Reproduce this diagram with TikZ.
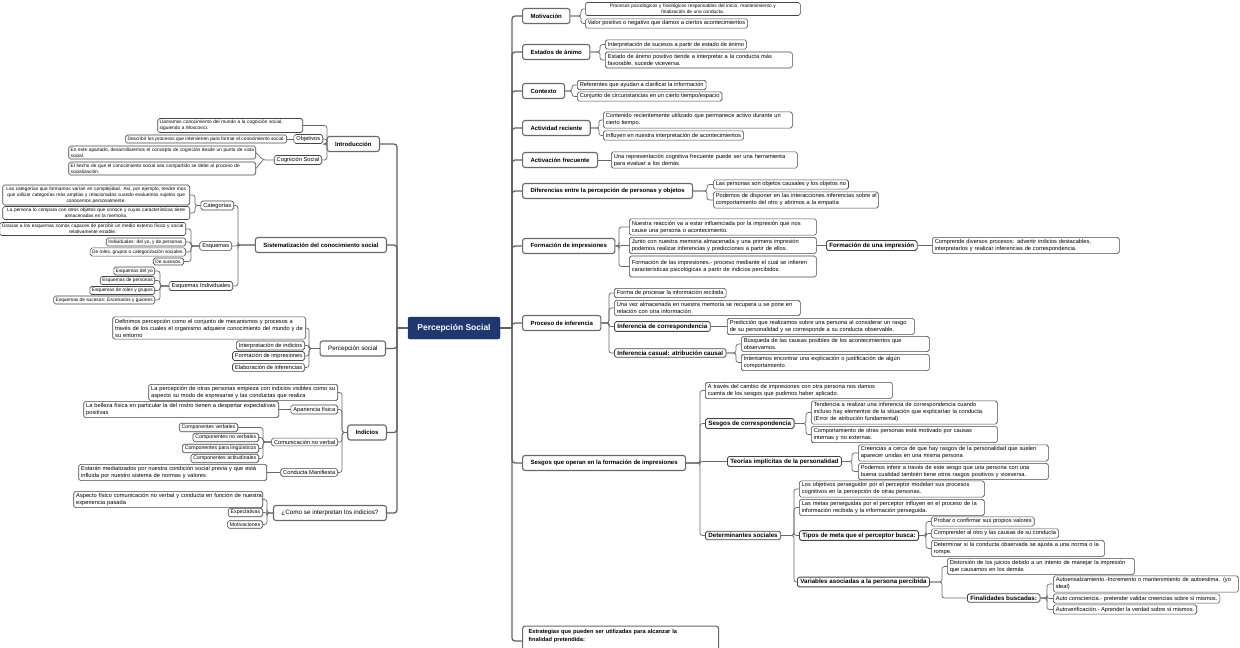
\documentclass[tikz,border=0pt]{standalone}
\usepackage{fontspec}
\setmainfont{Liberation Sans}
\newcommand{\fsz}[2]{\fontsize{#1}{#2}\selectfont}
\definecolor{bordc}{RGB}{70,70,70}
\definecolor{mainc}{RGB}{105,105,105}
\definecolor{connc}{RGB}{105,105,105}
\definecolor{rootc}{RGB}{31,56,112}
\newcommand{\conR}[3]{\foreach \nd in {#3}{\draw[conn] (#1.east) -- (#1.east -| #2) |- (\nd.west);}}
\newcommand{\conL}[3]{\foreach \nd in {#3}{\draw[conn] (#1.west) -- (#1.west -| #2) |- (\nd.east);}}
\newcommand{\lin}[1]{\mbox{#1}}
\tikzset{
 bx/.style={draw=bordc, line width=0.6pt, rounded corners=1.8pt, fill=white, inner xsep=2.5pt, inner ysep=2pt, font=\fsz{5.7}{7}, align=left},
 bxc/.style={bx, align=center},
 sbx/.style={bx, font=\fsz{4.8}{5.9}, inner xsep=2pt, inner ysep=1.8pt},
 sbxc/.style={sbx, align=center},
 lab/.style={bx, inner ysep=1.8pt},
 slab/.style={lab, font=\fsz{5.2}{6.4}},
 bsub/.style={bx, font=\bfseries\fsz{6.2}{7}, inner xsep=3pt, inner ysep=2pt, line width=0.8pt},
 mnode/.style={draw=mainc, line width=1.1pt, rounded corners=2.5pt, fill=white, font=\bfseries\fsz{6}{7}, inner xsep=8pt, minimum height=15pt},
 rootn/.style={fill=rootc, draw=rootc!70!black, rounded corners=2pt, text=white, font=\bfseries\fsz{8.5}{10}, minimum width=92pt, minimum height=22pt},
 conn/.style={draw=connc, line width=0.7pt, rounded corners=2.5pt},
 trunk/.style={draw=bordc!85, line width=1.3pt, rounded corners=3pt},
}
\begin{document}
\begin{tikzpicture}[x=1pt,y=-1pt]
\useasboundingbox (0,0) rectangle (1240,648);
\fill[white] (0,0) rectangle (1240,648);

\node[rootn] (root) at (454,328) {Percepción Social};

% ---------- right side ----------
\begin{scope}[every node/.append style={anchor=west}]
\node[mnode] (M1) at (522,16) {Motivación};
\node[mnode] (M2) at (522,52) {Estados de ánimo};
\node[mnode] (M3) at (522,91) {Contexto};
\node[mnode] (M4) at (522,128) {Actividad reciente};
\node[mnode] (M5) at (522,160) {Activación frecuente};
\node[mnode] (M6) at (522,191) {Diferencias entre la percepción de personas y objetos};
\node[mnode] (M7) at (522,246) {Formación de impresiones};
\node[mnode] (M8) at (522,323) {Proceso de inferencia};
\node[mnode] (M9) at (522,463) {Sesgos que operan en la formación de impresiones};
\node[mnode, align=left, font=\bfseries\fsz{5.7}{8.5}, inner xsep=6pt, inner ysep=3pt, text width=184pt] (M10) at (522,641) {\lin{Estrategias que pueden ser utilizadas para alcanzar la}\\\lin{finalidad pretendida:}\\ \strut};

\node[sbxc, text width=211pt] (c1a) at (585,9) {\lin{Procesos psicológicos y fisiológicos responsables del inicio, mantenimiento y}\\\lin{finalización de una conducta.}};
\node[bx] (c1b) at (585,23.5) {Valor positivo o negativo que damos a ciertos acontecimientos};
\node[bx] (c2a) at (605,44.5) {Interpretación de sucesos a partir de estado de ánimo};
\node[bx, text width=182pt] (c2b) at (605,60) {\lin{Estado de ánimo positivo tiende a interpretar a la conducta más}\\\lin{favorable, sucede viceversa.}};
\node[bx] (c3a) at (577,85) {Referentes que ayudan a clarificar la información};
\node[bx] (c3b) at (577,96.5) {Conjunto de circunstancias en un cierto tiempo/espacio};
\node[bx, text width=184pt] (c4a) at (603,120) {\lin{Contenido recientemente utilizado que permanece activo durante un}\\\lin{cierto tiempo.}};
\node[bx] (c4b) at (603,135.5) {Influyen en nuestra interpretación de acontecimientos};
\node[bx, text width=181pt] (c5a) at (611,160) {\lin{Una representación cognitiva frecuente puede ser una herramienta}\\\lin{para evaluar a los demás}};
\node[bx] (c6a) at (713,184.5) {Las personas son objetos causales y los objetos no};
\node[bx, text width=160pt] (c6b) at (713,200) {\lin{Podemos de disponer en las interacciones inferencias sobre el}\\\lin{comportamiento del otro y abrimos a la empatía}};

\node[bx, text width=182pt] (c7a) at (629,227) {\lin{Nuestra reacción va a estar influenciada por la impresión que nos}\\\lin{cause una persona o acontecimiento.}};
\node[bx, text width=182pt] (c7b) at (629,245.5) {\lin{Junto con nuestra memoria almacenada y una primera impresión}\\\lin{podemos realizar inferencias y predicciones a partir de ellos.}};
\node[bx, text width=182pt, minimum height=21pt] (c7c) at (629,266.5) {\lin{Formación de las impresiones.- proceso mediante el cual se infieren}\\\lin{características psicológicas a partir de indicios percibidos.}};
\node[bsub] (c7d) at (826,245.5) {Formación de una impresión};
\node[bx, text width=182pt] (c7e) at (932,245.5) {\lin{Comprende diversos procesos: advertir indicios destacables,}\\\lin{interpretarlos y realizar inferencias de correspondencia.}};

\node[bx] (c8a) at (614,293) {Forma de procesar la información recibida};
\node[bx, text width=181pt] (c8b) at (614,308) {\lin{Una vez almacenada en nuestra memoria se recupera u se pone en}\\\lin{relación con otra información}};
\node[bsub] (c8c) at (614,326.5) {Inferencia de correspondencia};
\node[bx, text width=182pt] (c8d) at (727,326.5) {\lin{Predicción que realizamos sobre una persona al considerar un rasgo}\\\lin{de su personalidad y se corresponde a su conducta observable.}};
\node[bsub] (c8e) at (614,353) {Inferencia casual: atribución causal};
\node[bx, text width=183pt] (c8f) at (741,344) {\lin{Búsqueda de las causas posibles de los acontecimientos que}\\\lin{observamos.}};
\node[bx, text width=183pt] (c8g) at (741,362.5) {\lin{Intentamos encontrar una explicación o justificación de algún}\\\lin{comportamiento.}};

\node[bx, text width=182pt] (c9a) at (705,390.5) {\lin{A través del cambio de impresiones con otra persona nos damos}\\\lin{cuenta de los sesgos que pudimos haber aplicado.}};
\node[bsub] (c9b) at (705,423.5) {Sesgos de correspondencia};
\node[bx, text width=181pt] (c9c) at (811,412.5) {\lin{Tendencia a realizar una inferencia de correspondencia cuando}\\\lin{incluso hay elementos de la situación que explicarían la conducta.}\\\lin{(Error de atribución fundamental)}};
\node[bx, text width=181pt] (c9d) at (811,434.5) {\lin{Comportamiento de otras personas está motivado por causas}\\\lin{internas y no externas.}};
\node[bsub] (c9e) at (727,461.5) {Teorías implícitas de la personalidad};
\node[bx, text width=185pt] (c9f) at (858,453) {\lin{Creencias a cerca de que hay rasgos de la personalidad que suelen}\\\lin{aparecer unidas en una misma persona}};
\node[bx, text width=185pt] (c9g) at (858,471.5) {\lin{Podemos inferir a través de este sesgo que una persona con una}\\\lin{buena cualidad también tiene otros rasgos positivos y viceversa.}};
\node[bsub] (c9h) at (705,535.5) {Determinantes sociales};
\node[bx, text width=180pt] (c9i) at (799,489) {\lin{Los objetivos perseguidor por el perceptor modelan sus procesos}\\\lin{cognitivos en la percepción de otras personas.}};
\node[bx, text width=180pt] (c9j) at (799,507.5) {\lin{Las metas perseguidas por el perceptor influyen en el proceso de la}\\\lin{información recibida y la información perseguida.}};
\node[bsub] (c9k) at (799,535.5) {Tipos de meta que el perceptor busca:};
\node[bx] (c9l) at (931,521.5) {Probar o confirmar sus propios valores};
\node[bx] (c9m) at (931,533.5) {Comprender al otro y las causas de su conducta};
\node[bx, text width=168pt] (c9n) at (931,548.5) {\lin{Determinar si la conducta observada se ajusta a una norma o la}\\\lin{rompe.}};
\node[bsub] (c9o) at (797,582) {Variables asociadas a la persona percibida};
\node[bx, text width=182pt] (c9p) at (947,566.5) {\lin{Distorsión de los juicios debido a un intento de manejar la impresión}\\\lin{que causamos en los demás}};
\node[bsub] (c9q) at (967,598) {Finalidades buscadas:};
\node[bx, text width=180pt] (c9r) at (1053,584) {\lin{Autoensalzamiento.-Incremento o mantenimiento de autoestima. (yo}\\\lin{ideal)}};
\node[bx] (c9s) at (1053,598.5) {Auto consciencia.- pretender validar creencias sobre sí mismos.};
\node[bx] (c9t) at (1053,609.5) {Autoverificación.- Aprender la verdad sobre sí mismos.};
\end{scope}

% ---------- left side ----------
\begin{scope}[every node/.append style={anchor=east}]
\node[mnode] (L1) at (380,144) {Introducción};
\node[mnode] (L2) at (387,245) {Sistematización del conocimiento social};
\node[mnode, font=\fsz{6.3}{7}] (L3) at (386,348.5) {Percepción social};
\node[mnode] (L4) at (387,432.5) {Indicios};
\node[mnode, font=\fsz{6.3}{7}] (L5) at (387,513) {¿Como se interpretan los indicios?};

\node[sbx, text width=141pt] (n1a) at (303,125.5) {\lin{Llamamos conocimiento del mundo a la cognición social,}\\\lin{siguiendo a Moscovici.}};
\node[lab] (n1b) at (323,139) {Objetivos};
\node[sbx] (n1b1) at (287,139) {Describir los procesos que intervienen para formar el conocimiento social.};
\node[lab] (n1c) at (322,160) {Cognición Social};
\node[sbx, text width=183pt] (n1c1) at (256,152.5) {\lin{En este apartado, desarrollaremos el concepto de cognición desde un punto de vista}\\\lin{social.}};
\node[sbx, text width=183pt] (n1c2) at (256,168.5) {\lin{El hecho de que el conocimiento social sea compartido se debe al proceso de}\\\lin{socialización.}};

\node[lab] (n2a) at (234,205.5) {Categorías};
\node[sbxc, text width=183pt] (cat1) at (190,195) {\lin{Las categorías que formamos varían en complejidad. Así, por ejemplo, tendre mos}\\\lin{que utilizar categorías más amplias y relacionadas cuando evaluemos sujetos que}\\\lin{conocemos personalmente.}};
\node[sbxc, text width=183pt] (cat2) at (190,213) {\lin{La persona lo compara con otros objetos que conoce y cuyas características tiene}\\\lin{almacenadas en la memoria.}};
\node[lab] (n2b) at (232,246) {Esquemas};
\node[sbxc, text width=182pt] (e1) at (186,229) {\lin{Gracias a los esquemas somos capaces de percibir un medio externo físico y social}\\\lin{relativamente estable.}};
\node[sbx] (e2) at (186,242) {Individuales: del yo, y de personas.};
\node[sbx] (e3) at (186,252) {De roles, grupos o categorización sociales.};
\node[sbx] (e4) at (184,261.5) {De sucesos.};
\node[lab] (n2c) at (233,286) {Esquemas Individuales};
\node[sbx] (ei1) at (155,271) {Esquemas del yo};
\node[sbx] (ei2) at (155,280.5) {Esquemas de personas};
\node[sbx] (ei3) at (155,290.5) {Esquemas de roles y grupos};
\node[sbx] (ei4) at (155,300) {Esquemas de sucesos: Escenarios y guiones};

\node[bx, text width=188pt] (p1) at (306,328) {\lin{Definimos percepción como el conjunto de mecanismos y procesos a}\\\lin{través de los cuales el organismo adquiere conocimiento del mundo y de}\\\lin{su entorno}};
\node[lab] (p2) at (305,345.5) {Interpretación de indicios};
\node[lab] (p3) at (305,356) {Formación de impresiones};
\node[lab] (p4) at (305,367.5) {Elaboración de inferencias};

\node[bx, text width=184pt] (i1) at (338,392.5) {\lin{La percepción de otras personas empieza con indicios visibles como su}\\\lin{aspecto su modo de expresarse y las conductas que realiza}};
\node[lab] (i2) at (338,409.5) {Apariencia física};
\node[bx, text width=190pt] (i2a) at (279,409.5) {\lin{La belleza física en particular la del rostro tienen a despertar expectativas}\\\lin{positivas}};
\node[lab] (i3) at (338,442) {Comunicación no verbal};
\node[slab] (i3a) at (238,427.5) {Componentes verbales};
\node[slab] (i3b) at (259,437.5) {Componentes no verbales};
\node[slab] (i3c) at (259,448.5) {Componentes para lingüísticos};
\node[slab] (i3d) at (259,458.5) {Componentes actitudinales};
\node[lab] (i4) at (338,472.5) {Conducta Manifiesta};
\node[bx, text width=183pt] (i4a) at (267,472.5) {\lin{Estarán mediatizados por nuestra condición social previa y que está}\\\lin{influida por nuestro sistema de normas y valores}};

\node[bx, text width=184pt] (w1) at (263,499.5) {\lin{Aspecto físico comunicación no verbal y conducta en función de nuestra}\\\lin{experiencia pasada}};
\node[slab] (w2) at (263,512.5) {Expectativas};
\node[slab] (w3) at (263,524.5) {Motivaciones};
\end{scope}

% ---------- bracket coordinates ----------
\coordinate (TR) at (512,0);
\coordinate (TL) at (397,0);
\coordinate (bR1) at (581,0);
\coordinate (bR2) at (600,0);
\coordinate (bR3) at (572,0);
\coordinate (bR4) at (599,0);
\coordinate (bR6) at (707,0);
\coordinate (bR7) at (619,0);
\coordinate (bR8) at (609,0);
\coordinate (bR8b) at (736,0);
\coordinate (bR9) at (700,0);
\coordinate (bR9b) at (806,0);
\coordinate (bR9e) at (852,0);
\coordinate (bR9h) at (794,0);
\coordinate (bR9k) at (926,0);
\coordinate (bR9o) at (942,0);
\coordinate (bR9q) at (1047,0);
\coordinate (bL1) at (327,0);
\coordinate (bL1c) at (263,0);
\coordinate (bL2) at (238,0);
\coordinate (bL2a) at (195,0);
\coordinate (bL2b) at (191,0);
\coordinate (bL2c) at (160,0);
\coordinate (bL3) at (309,0);
\coordinate (bL4) at (342,0);
\coordinate (bL4c) at (263,0);
\coordinate (bL5) at (267,0);

% ---------- trunks ----------
\draw[trunk] (root.east) -- (root.east -| TR);
\foreach \m in {M1,M2,M3,M4,M5,M6,M7,M8,M9,M10}{\draw[trunk] (root.east -| TR) |- (\m.west);}
\draw[trunk] (root.west) -- (root.west -| TL);
\foreach \m in {L1,L2,L3,L4,L5}{\draw[trunk] (root.west -| TL) |- (\m.east);}

% ---------- right connectors ----------
\conR{M1}{bR1}{c1a,c1b}
\conR{M2}{bR2}{c2a,c2b}
\conR{M3}{bR3}{c3a,c3b}
\conR{M4}{bR4}{c4a,c4b}
\draw[conn] (M5.east) -- (c5a.west);
\conR{M6}{bR6}{c6a,c6b}
\conR{M7}{bR7}{c7a,c7b,c7c}
\draw[conn] (c7b.east) -- (c7d.west);
\draw[conn] (c7d.east) -- (c7e.west);
\conR{M8}{bR8}{c8a,c8b,c8c,c8e}
\draw[conn] (c8c.east) -- (c8d.west);
\conR{c8e}{bR8b}{c8f,c8g}
\conR{M9}{bR9}{c9a,c9b,c9e,c9h}
\conR{c9b}{bR9b}{c9c,c9d}
\conR{c9e}{bR9e}{c9f,c9g}
\conR{c9h}{bR9h}{c9i,c9j,c9k,c9o}
\conR{c9k}{bR9k}{c9l,c9m,c9n}
\conR{c9o}{bR9o}{c9p,c9q}
\conR{c9q}{bR9q}{c9r,c9s,c9t}

% ---------- left connectors ----------
\conL{L1}{bL1}{n1a,n1b,n1c}
\draw[conn] (n1b.west) -- (n1b1.east);
\draw[conn] (n1c.west) -- (n1c.west -| bL1c) -- (n1c1.east);
\draw[conn] (n1c.west -| bL1c) -- (n1c2.east);
\conL{L2}{bL2}{n2a,n2b,n2c}
\conL{n2a}{bL2a}{cat1,cat2}
\conL{n2b}{bL2b}{e1,e2,e3,e4}
\conL{n2c}{bL2c}{ei1,ei2,ei3,ei4}
\conL{L3}{bL3}{p1,p2,p3,p4}
\conL{L4}{bL4}{i1,i2,i3,i4}
\draw[conn] (i2.west) -- (i2a.east);
\conL{i3}{bL4c}{i3a,i3b,i3c,i3d}
\draw[conn] (i4.west) -- (i4a.east);
\conL{L5}{bL5}{w1,w2,w3}
\end{tikzpicture}
\end{document}
